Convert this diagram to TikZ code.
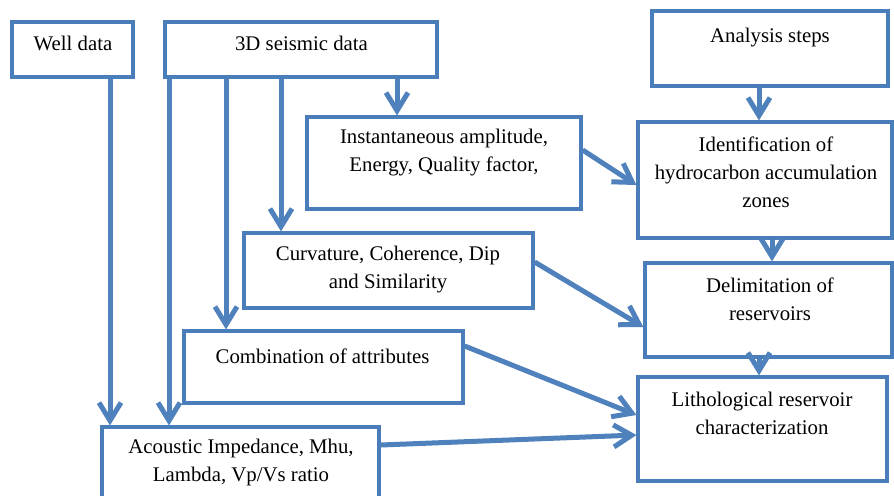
\documentclass[tikz,border=0pt]{standalone}
\usepackage{fontspec}
\setmainfont{Liberation Serif}
\usetikzlibrary{arrows.meta}
\definecolor{ob}{HTML}{4F81BD}
\definecolor{bb}{HTML}{4A7EBB}
\begin{document}
\begin{tikzpicture}[x=0.5pt,y=-0.5pt,
  box/.style={draw=bb, line width=1.6pt, fill=white, inner sep=0pt},
  txt/.style={font=\fontsize{10.4}{14}\selectfont, align=center, inner sep=0pt, text=black},
  conn/.style={draw=ob, line width=2.5pt, -{Straight Barb[length=9pt,width=11pt]}}]
\useasboundingbox (0,0) rectangle (894,495);
\clip (0,0) rectangle (894,495);
\fill[white] (0,0) rectangle (894,495);
% boxes
\node[box, minimum width=60.5pt, minimum height=27.5pt] (well) at (72.5,49.5) {};
\node[box, minimum width=136pt, minimum height=27.5pt] (seis) at (301,49.5) {};
\node[box, minimum width=118pt, minimum height=37.5pt] (anal) at (770,48.5) {};
\node[box, minimum width=137pt, minimum height=46pt] (inst) at (444,163) {};
\node[box, minimum width=127pt, minimum height=58pt] (ident) at (765,180) {};
\node[box, minimum width=144.5pt, minimum height=37.5pt] (curv) at (388.5,270.5) {};
\node[box, minimum width=123.5pt, minimum height=47pt] (delim) at (768.5,310) {};
\node[box, minimum width=139.5pt, minimum height=36pt] (comb) at (323.5,367) {};
\node[box, minimum width=124.5pt, minimum height=52pt] (lith) at (762.5,429) {};
\node[box, minimum width=138.5pt, minimum height=44pt] (ac) at (240.5,471) {};
% texts
\node[txt] (twell) at (73,43) {Well data};
\node[txt] (tseis) at (301.5,43) {3D seismic data};
\node[txt] (tanal) at (770,38) {Analysis steps};
\node[txt] (tinst) at (444,153) {Instantaneous amplitude,\\Energy, Quality factor,};
\node[txt] (tident) at (766,172) {Identification of\\hydrocarbon accumulation\\zones};
\node[txt] (tcurv) at (388,270) {Curvature, Coherence, Dip\\and Similarity};
\node[txt] (tdelim) at (770,299) {Delimitation of\\reservoirs};
\node[txt] (tcomb) at (322.5,356) {Combination of attributes};
\node[txt] (tlith) at (762,413) {Lithological reservoir\\characterization};
\node[txt] (tac) at (241,462) {Acoustic Impedance, Mhu,\\Lambda, Vp/Vs ratio};
% connector x positions
\coordinate (x110) at (110,0);
\coordinate (x169) at (169,0);
\coordinate (x226) at (226,0);
\coordinate (x281) at (281,0);
\coordinate (x397) at (397,0);
\coordinate (x759) at (759,0);
\coordinate (x772) at (772,0);
% vertical connectors
\draw[conn] (well.south -| x110) -- (ac.north -| x110);
\draw[conn] (seis.south -| x169) -- (ac.north -| x169);
\draw[conn] (seis.south -| x226) -- (comb.north -| x226);
\draw[conn] (seis.south -| x281) -- (curv.north -| x281);
\draw[conn] (seis.south -| x397) -- (inst.north -| x397);
\draw[conn] (anal.south -| x759) -- (ident.north -| x759);
\draw[conn] (ident.south -| x772) -- (delim.north -| x772);
\draw[conn] (delim.south -| x759) -- (lith.north -| x759);
% diagonal connectors
\draw[conn] ([yshift=6.5pt]inst.east) -- ([yshift=-2.5pt]ident.west);
\draw[conn] ([yshift=4.25pt]curv.east) -- ([yshift=-8.5pt]delim.west);
\draw[conn] ([yshift=10.5pt]comb.east) -- ([yshift=7pt]lith.west);
\draw[conn] ([yshift=13pt]ac.east) -- ([yshift=-3pt]lith.west);
\end{tikzpicture}
\end{document}
